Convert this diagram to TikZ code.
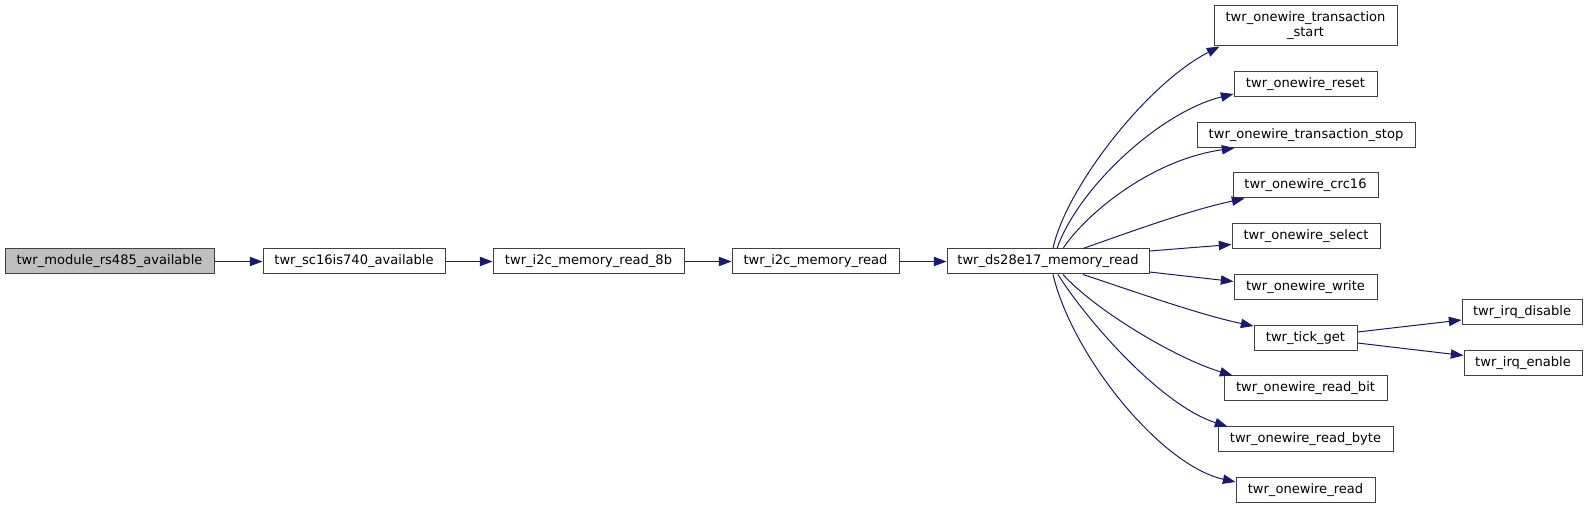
\documentclass[tikz,border=0pt]{standalone}
\usepackage{fontspec}
\setmainfont{DejaVu Sans}
\usetikzlibrary{arrows.meta,positioning,calc}
\definecolor{AzulNoche}{RGB}{25,25,112}
\definecolor{GrisBorde}{RGB}{64,64,64}
\definecolor{GrisRaiz}{RGB}{191,191,191}
\tikzset{
  funcbox/.style={draw=GrisBorde, line width=0.75pt, fill=white, align=center,
    minimum width=#1, minimum height=18.75pt, inner sep=0pt,
    font=\fontsize{9.8}{11.25}\selectfont},
  funcbox/.default=100pt,
  rootbox/.style={funcbox=#1, fill=GrisRaiz},
  callarr/.style={-{Triangle[length=9.5pt, width=7pt]}, line width=0.75pt, AzulNoche},
}
\begin{document}
\begin{tikzpicture}[x=0.75pt, y=-0.75pt]
    \useasboundingbox (0,0) rectangle (1589,509);
    % cadena principal
    \node[rootbox=156.75pt] (mod) at (109.5,261.5) {twr\_module\_rs485\_available};
    \node[funcbox=136.5pt] (sc) at (354,261.5) {twr\_sc16is740\_available};
    \node[funcbox=143.25pt] (rd8) at (588.5,261.5) {twr\_i2c\_memory\_read\_8b};
    \node[funcbox=125.25pt] (rd) at (815.5,261.5) {twr\_i2c\_memory\_read};
    \node[funcbox=151.5pt] (ds) at (1048,261.5) {twr\_ds28e17\_memory\_read};
    \draw[callarr] (mod) -- (sc);
    \draw[callarr] (sc) -- (rd8);
    \draw[callarr] (rd8) -- (rd);
    \draw[callarr] (rd) -- (ds);

    % llamadas de twr_ds28e17_memory_read
    \node[funcbox=137.25pt, minimum height=30pt] (t1) at (1305.5,26) {twr\_onewire\_transaction\\\_start};
    \node[funcbox=107.25pt] (t2) at (1305.5,84) {twr\_onewire\_reset};
    \node[funcbox=163.5pt] (t3) at (1306,135) {twr\_onewire\_transaction\_stop};
    \node[funcbox=108.75pt] (t4) at (1305.5,185.5) {twr\_onewire\_crc16};
    \node[funcbox=111pt] (t5) at (1306,236.5) {twr\_onewire\_select};
    \node[funcbox=107.25pt] (t6) at (1305.5,287.5) {twr\_onewire\_write};
    \node[funcbox=77.25pt] (t7) at (1305.5,338) {twr\_tick\_get};
    \node[funcbox=122.25pt] (t8) at (1305.5,388.5) {twr\_onewire\_read\_bit};
    \node[funcbox=131.25pt] (t9) at (1305.5,439.5) {twr\_onewire\_read\_byte};
    \node[funcbox=104.25pt] (t10) at (1305.5,490) {twr\_onewire\_read};
    \draw[callarr] ($(ds.north)+(5,0)$) .. controls (1065,190) and (1145,85) .. ($(t1.south west)+(6,0)$);
    \draw[callarr] ($(ds.north)+(9,0)$) .. controls (1078,188) and (1160,112) .. ($(t2.west)+(0,10)$);
    \draw[callarr] ($(ds.north)+(15,0)$) .. controls (1085,215) and (1150,160) .. ($(t3.south west)+(38,0)$);
    \draw[callarr] ($(ds.north)+(35,0)$) .. controls (1130,232) and (1190,210) .. ($(t4.south west)+(12,0)$);
    \draw[callarr] ($(ds.east)+(0,-10.5)$) -- ($(t5.west)+(0,8)$);
    \draw[callarr] ($(ds.east)+(0,10.5)$) -- ($(t6.west)+(0,-6)$);
    \draw[callarr] ($(ds.south)+(35,0)$) .. controls (1130,290) and (1200,315) .. ($(t7.north west)+(0,1)$);
    \draw[callarr] ($(ds.south)+(15,0)$) .. controls (1095,310) and (1175,358) .. ($(t8.north west)+(9,0)$);
    \draw[callarr] ($(ds.south)+(10,0)$) .. controls (1085,318) and (1160,405) .. ($(t9.north west)+(10,0)$);
    \draw[callarr] ($(ds.south)+(5,0)$) .. controls (1072,355) and (1160,465) .. ($(t10.west)+(0,-8)$);

    % llamadas de twr_tick_get
    \node[funcbox=90pt] (irq1) at (1522,312) {twr\_irq\_disable};
    \node[funcbox=88.5pt] (irq2) at (1523,363.5) {twr\_irq\_enable};
    \draw[callarr] ($(t7.east)+(0,-6)$) -- ($(irq1.west)+(0,8)$);
    \draw[callarr] ($(t7.east)+(0,5)$) -- ($(irq2.west)+(0,-8)$);
\end{tikzpicture}
\end{document}
